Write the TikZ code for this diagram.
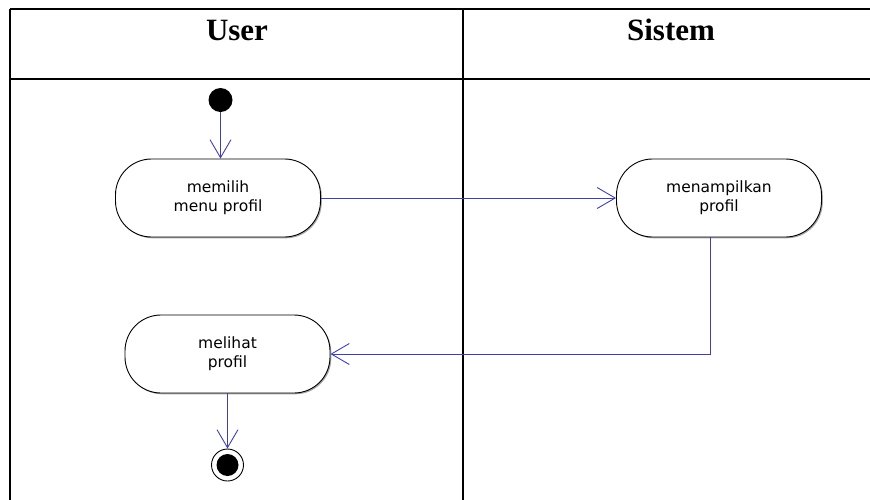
\documentclass[tikz,border=0pt]{standalone}
\usepackage{fontspec}
\setmainfont{Liberation Serif}
\newfontfamily\nodefont{DejaVu Sans}
\usetikzlibrary{arrows.meta,shadows}
\definecolor{flowblue}{RGB}{64,64,170}
\tikzset{
  lane/.style={line width=2pt, black},
  header/.style={font=\fontsize{31}{36}\selectfont\bfseries, anchor=base, inner sep=0pt},
  action/.style={draw=black, line width=0.9pt, fill=white, rounded corners=36pt,
    minimum width=205pt, minimum height=78pt, inner sep=0pt, align=center,
    font=\nodefont\fontsize{15.5}{19}\selectfont,
    drop shadow={shadow xshift=1.3pt, shadow yshift=-1.3pt, opacity=0.35, fill=black}},
  startnode/.style={circle, fill=black, minimum size=24pt, inner sep=0pt},
  endnode/.style={circle, draw=black, line width=0.9pt, fill=white, minimum size=32pt, inner sep=0pt,
    path picture={\fill[black] (path picture bounding box.center) circle (11pt);}},
  flow/.style={draw=flowblue, line width=0.9pt, -{Straight Barb[length=18pt, width=21pt, line width=0.9pt]}}
}
\begin{document}
\begin{tikzpicture}[x=1pt, y=-1pt]
\useasboundingbox (0,0) rectangle (870,499);
\begin{scope}
\clip (0,0) rectangle (870,499);
% swimlane table
\coordinate (tl) at (10,9);
\coordinate (tr) at (880,9);
\coordinate (hl) at (10,79);
\coordinate (hr) at (880,79);
\coordinate (bl) at (10,505);
\coordinate (dt) at (463,9);
\coordinate (db) at (463,505);
\draw[lane] (tl) -- (tr);
\draw[lane] (hl) -- (hr);
\draw[lane] (tl) -- (bl);
\draw[lane] (dt) -- (db);
\end{scope}
\node[header] (huser) at (237,40) {User};
\node[header] (hsis) at (671,40) {Sistem};
% nodes
\node[startnode] (init) at (220.5,100) {};
\node[action] (a1) at (218,198) {memilih\\menu profil};
\node[action] (a2) at (719,198) {menampilkan\\profil};
\node[action] (a3) at (227.5,354) {melihat\\profil};
\node[endnode] (fin) at (227.5,465) {};
% connectors
\draw[flow] (init) -- (init |- a1.north);
\draw[flow] (a1.east) -- (a2.west);
\coordinate (c1) at ([xshift=-9pt]a2.south);
\draw[flow] (c1) |- (a3.east);
\draw[flow] (a3.south) -- (fin.north);
\end{tikzpicture}
\end{document}
